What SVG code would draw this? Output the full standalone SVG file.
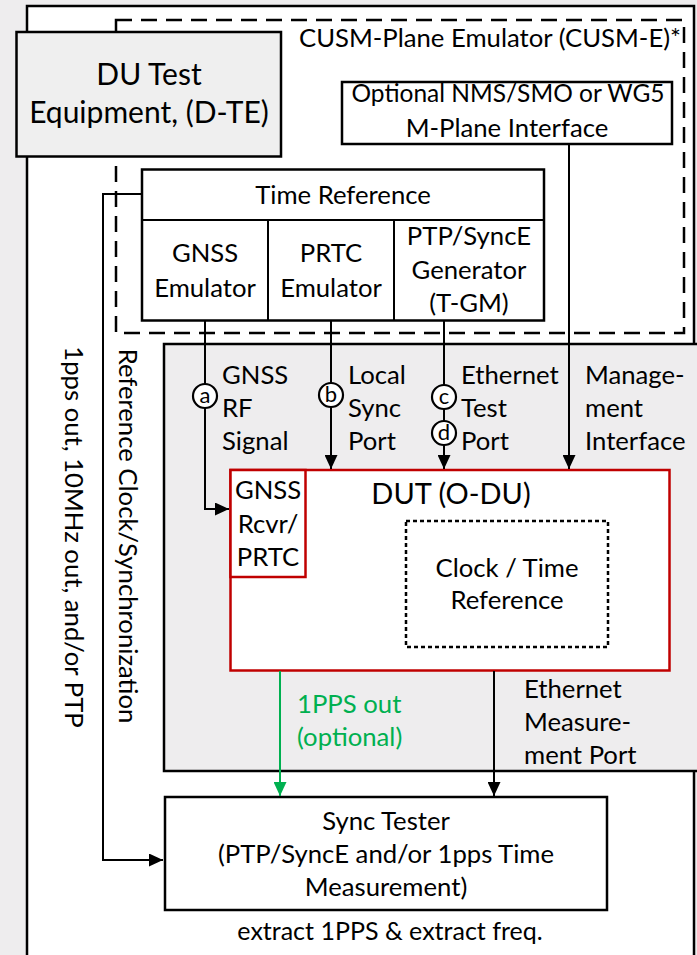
<svg xmlns="http://www.w3.org/2000/svg" width="697" height="955" viewBox="0 0 697 955">
  <defs>
    <style>
      .t { font-family: Lato, "Liberation Sans", sans-serif; font-size: 25.7px; fill: #000; }
      .c { text-anchor: middle; }
      .big { font-size: 30px; }
      .dutt { font-size: 29px; }
      .sm { font-size: 22px; }
      .grn { fill: #00b050; }
      .box { fill: #fff; stroke: #000; stroke-width: 2.5; }
      .red { fill: #fff; stroke: #c00000; stroke-width: 2.5; }
      .ln { fill: none; stroke: #000; stroke-width: 2; }
      .gl { fill: none; stroke: #00b050; stroke-width: 2; }
      .tag { fill: #fff; stroke: #000; stroke-width: 2.2; }
    </style>
    <marker id="arr" markerUnits="userSpaceOnUse" markerWidth="14" markerHeight="13" refX="14" refY="6.5" orient="auto">
      <path d="M0,0 L14,6.5 L0,13 z" fill="#000"/>
    </marker>
    <marker id="arrG" markerUnits="userSpaceOnUse" markerWidth="14" markerHeight="13" refX="14" refY="6.5" orient="auto">
      <path d="M0,0 L14,6.5 L0,13 z" fill="#00b050"/>
    </marker>
  </defs>

  <!-- page background -->
  <rect x="0" y="0" width="697" height="955" fill="#eeedee"/>

  <!-- test setup frame -->
  <g id="frame">
    <rect x="27" y="6" width="667" height="1000" fill="#fff" stroke="#000" stroke-width="2.5"/>
  </g>

  <!-- CUSM-Plane emulator boundary -->
  <g id="cusm-e">
    <rect x="116" y="20" width="568" height="313" fill="none" stroke="#000" stroke-width="2.5" stroke-dasharray="16 9"/>
    <text class="t" x="681" y="47" text-anchor="end">CUSM-Plane Emulator (CUSM-E)*</text>
  </g>

  <!-- DUT enclosure (shaded) -->
  <g id="dut-area">
    <rect x="164" y="344" width="545" height="427" fill="#eeedee" stroke="#000" stroke-width="2.5"/>
  </g>

  <!-- DU Test Equipment -->
  <g id="d-te">
    <rect x="16.5" y="32" width="264.5" height="124.5" fill="#efefef" stroke="#000" stroke-width="2.5"/>
    <text class="t big c" x="149" y="85">DU Test</text>
    <text class="t big c" x="149" y="123">Equipment, (D-TE)</text>
  </g>

  <!-- Optional management interface -->
  <g id="nms">
    <rect class="box" x="342" y="82" width="330" height="62"/>
    <text class="t c" x="508" y="102" style="font-size:24.5px">Optional NMS/SMO or WG5</text>
    <text class="t c" x="507" y="137">M-Plane Interface</text>
  </g>

  <!-- Time reference block -->
  <g id="time-ref">
    <rect class="box" x="142" y="169.5" width="402" height="151"/>
    <line class="ln" x1="142" y1="220" x2="544" y2="220" stroke-width="2.5"/>
    <line class="ln" x1="268" y1="220" x2="268" y2="320.5" stroke-width="2.5"/>
    <line class="ln" x1="394" y1="220" x2="394" y2="320.5" stroke-width="2.5"/>
    <text class="t c" x="343" y="204">Time Reference</text>
    <text class="t c" x="205" y="262">GNSS</text>
    <text class="t c" x="205" y="297">Emulator</text>
    <text class="t c" x="331" y="262">PRTC</text>
    <text class="t c" x="331" y="297">Emulator</text>
    <text class="t c" x="469" y="245">PTP/SyncE</text>
    <text class="t c" x="469" y="279">Generator</text>
    <text class="t c" x="469" y="312">(T-GM)</text>
  </g>

  <!-- Device under test -->
  <g id="dut">
    <rect class="red" x="230.5" y="470" width="439" height="200.5"/>
    <rect class="red" x="230.5" y="470" width="75" height="107"/>
    <text class="t c" x="268" y="499">GNSS</text>
    <text class="t c" x="268" y="533">Rcvr/</text>
    <text class="t c" x="268" y="566">PRTC</text>
    <text class="t dutt c" x="451" y="504">DUT (O-DU)</text>
  </g>

  <!-- Clock / time reference inside the DUT -->
  <g id="clock">
    <rect x="406" y="521" width="202" height="126" fill="none" stroke="#000" stroke-width="2.5" stroke-dasharray="4 3"/>
    <text class="t c" x="507" y="577">Clock / Time</text>
    <text class="t c" x="507" y="609">Reference</text>
  </g>

  <!-- Sync tester -->
  <g id="sync-tester">
    <rect class="box" x="165" y="797" width="442" height="113"/>
    <text class="t c" x="386" y="830">Sync Tester</text>
    <text class="t c" x="386" y="863">(PTP/SyncE and/or 1pps Time</text>
    <text class="t c" x="386" y="896">Measurement)</text>
    <text class="t c" x="390" y="940" style="font-size:25px">extract 1PPS &amp; extract freq.</text>
  </g>

  <!-- connectors -->
  <g id="connectors">
    <path class="ln" d="M142,194 H103 V860 H163" marker-end="url(#arr)"/>
    <path class="ln" d="M205,320 V509 H229" marker-end="url(#arr)"/>
    <path class="ln" d="M331,320 V469" marker-end="url(#arr)"/>
    <path class="ln" d="M444,320 V469" marker-end="url(#arr)"/>
    <path class="ln" d="M569,144 V469" marker-end="url(#arr)"/>
    <path class="gl" d="M280,671 V796" marker-end="url(#arrG)"/>
    <path class="ln" d="M494,671 V796" marker-end="url(#arr)"/>

    <circle class="tag" cx="205" cy="396" r="12"/>
    <text class="t sm c" x="205" y="403">a</text>
    <circle class="tag" cx="331" cy="395" r="12"/>
    <text class="t sm c" x="331" y="402">b</text>
    <circle class="tag" cx="444" cy="397" r="12"/>
    <text class="t sm c" x="444" y="404">c</text>
    <circle class="tag" cx="444" cy="433" r="12"/>
    <text class="t sm c" x="444" y="440">d</text>

    <text class="t" x="222" y="384">GNSS</text>
    <text class="t" x="222" y="417">RF</text>
    <text class="t" x="222" y="450">Signal</text>
    <text class="t" x="348" y="384">Local</text>
    <text class="t" x="348" y="417">Sync</text>
    <text class="t" x="348" y="450">Port</text>
    <text class="t" x="461" y="384">Ethernet</text>
    <text class="t" x="461" y="417">Test</text>
    <text class="t" x="461" y="450">Port</text>
    <text class="t" x="585" y="384">Manage-</text>
    <text class="t" x="585" y="417">ment</text>
    <text class="t" x="585" y="450">Interface</text>

    <text class="t grn" x="297" y="713">1PPS out</text>
    <text class="t grn" x="297" y="746">(optional)</text>
    <text class="t" x="524" y="698">Ethernet</text>
    <text class="t" x="524" y="731">Measure-</text>
    <text class="t" x="524" y="764">ment Port</text>

    <text class="t c" transform="translate(65 537) rotate(90)">1pps out, 10MHz out, and/or PTP</text>
    <text class="t c" transform="translate(119 536) rotate(90)">Reference Clock/Synchronization</text>
  </g>
</svg>
